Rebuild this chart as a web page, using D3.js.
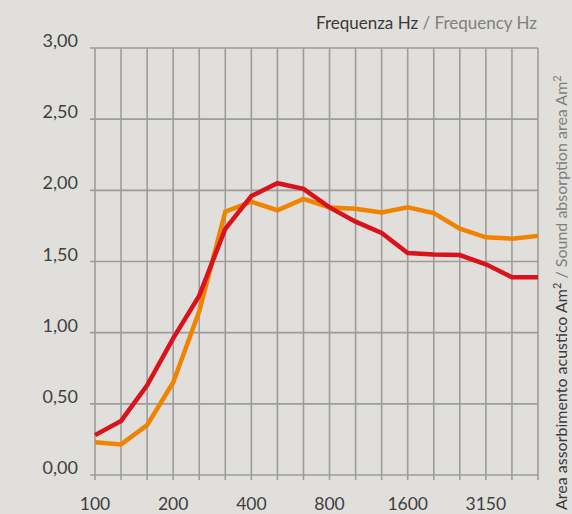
<!DOCTYPE html>
<html>
<head>
<meta charset="utf-8">
<script src="https://cdn.jsdelivr.net/npm/d3@7/dist/d3.min.js"></script>
<style>
  html, body { margin: 0; padding: 0; background: #e0dfdb; }
  svg { display: block; }
  text { font-family: "Lato", "Noto Sans", sans-serif; font-weight: 400; }
</style>
</head>
<body>
<svg id="chart" width="572" height="514"></svg>
<script>
const freqs = ["100","125","160","200","250","315","400","500","630","800","1000","1250","1600","2000","2500","3150","4000","5000"];
const xLabels = ["100","200","400","800","1600","3150"];
const yTicks = [0, 0.5, 1, 1.5, 2, 2.5, 3];
const seriesRed = [0.28,0.38,0.63,0.96,1.26,1.73,1.96,2.05,2.01,1.88,1.78,1.70,1.56,1.55,1.545,1.48,1.39,1.39];
const seriesOrange = [0.23,0.215,0.35,0.65,1.15,1.85,1.92,1.86,1.94,1.88,1.87,1.845,1.88,1.84,1.73,1.67,1.66,1.68];

const svg = d3.select("#chart");
const mLeft = 95, mRight = 538, mTop = 48, mBottom = 475;

const x = d3.scalePoint().domain(freqs).range([mLeft, mRight]).padding(0);
const y = d3.scaleLinear().domain([0, 3]).range([mBottom, mTop]);

const gridColor = "#9c9c9c";
const grid = svg.append("g");

grid.selectAll("line.h").data(yTicks).join("line")
  .attr("class", "h")
  .attr("x1", mLeft - 5).attr("x2", mRight)
  .attr("y1", d => y(d)).attr("y2", d => y(d))
  .attr("stroke", gridColor).attr("stroke-width", 1.6);

grid.selectAll("line.v").data(freqs).join("line")
  .attr("class", "v")
  .attr("x1", d => x(d)).attr("x2", d => x(d))
  .attr("y1", mTop).attr("y2", mBottom + 5)
  .attr("stroke", gridColor).attr("stroke-width", 1.6);

svg.append("g").selectAll("text").data(yTicks).join("text")
  .attr("x", 78).attr("y", d => y(d) - 1)
  .attr("text-anchor", "end")
  .attr("font-size", 18)
  .attr("fill", "#404040")
  .text(d => d3.format(".2f")(d).replace(".", ","));

svg.append("g").selectAll("text").data(xLabels).join("text")
  .attr("x", d => x(d)).attr("y", 510)
  .attr("text-anchor", "middle")
  .attr("font-size", 17.5)
  .attr("fill", "#404040")
  .text(d => d);

const line = d3.line().x((d, i) => x(freqs[i])).y(d => y(d));
svg.append("path").datum(seriesOrange)
  .attr("d", line).attr("fill", "none")
  .attr("stroke", "#f08400").attr("stroke-width", 4.5);
svg.append("path").datum(seriesRed)
  .attr("d", line).attr("fill", "none")
  .attr("stroke", "#d9121b").attr("stroke-width", 4.5);

const t = svg.append("text").attr("x", 537).attr("y", 29)
  .attr("text-anchor", "end").attr("font-size", 17);
t.append("tspan").attr("fill", "#3a3a3a").text("Frequenza Hz ");
t.append("tspan").attr("fill", "#808080").text("/ Frequency Hz");

const r = svg.append("text")
  .attr("transform", "translate(567,510) rotate(-90)")
  .attr("text-anchor", "start").attr("font-size", 16);
r.append("tspan").attr("fill", "#3a3a3a").text("Area assorbimento acustico Am");
r.append("tspan").attr("fill", "#3a3a3a").attr("dy", -6).attr("font-size", 11).text("2");
r.append("tspan").attr("fill", "#808080").attr("dy", 6).text(" / Sound absorption area Am");
r.append("tspan").attr("fill", "#808080").attr("dy", -6).attr("font-size", 11).text("2");
</script>
</body>
</html>
